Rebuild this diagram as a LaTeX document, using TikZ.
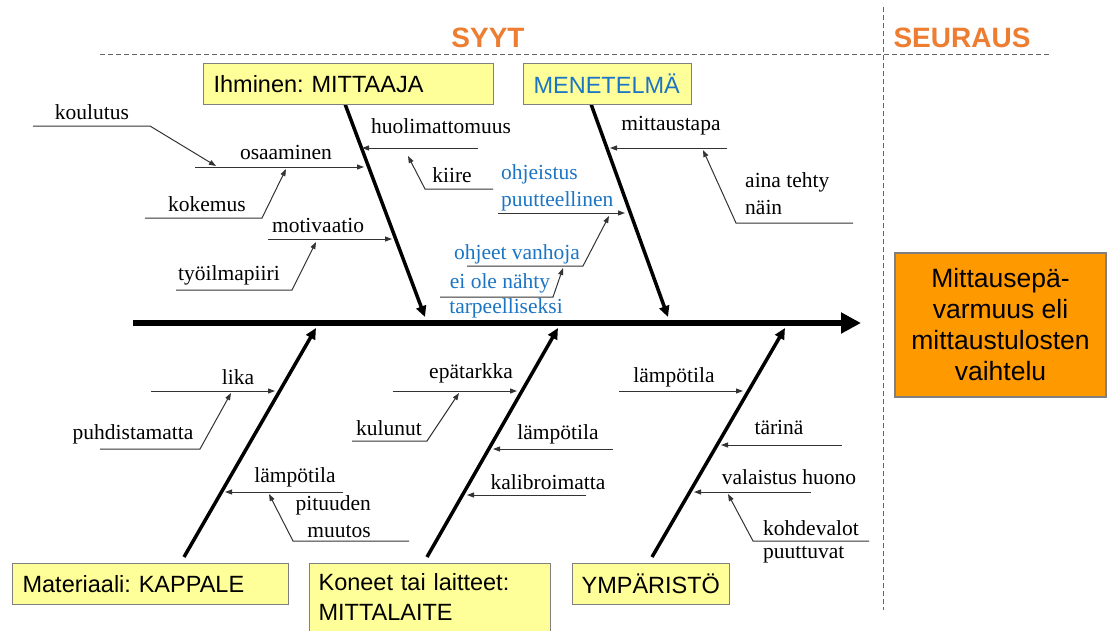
\documentclass[tikz,border=0pt]{standalone}
\usepackage{fontspec}
\setmainfont{Liberation Serif}
\newfontfamily\boxfont{Liberation Sans}
\usetikzlibrary{arrows.meta}
\definecolor{yfill}{HTML}{FFFF99}
\definecolor{bgray}{HTML}{808080}
\definecolor{mblue}{RGB}{28,117,196}
\definecolor{horange}{RGB}{237,125,49}
\definecolor{ofill}{RGB}{255,153,0}
\definecolor{tgray}{HTML}{333333}
\definecolor{dgray}{HTML}{666666}
\newcommand{\fbtwig}[3]{\coordinate (#1s) at (#2); \coordinate (#1t) at (#3); \draw[twig] (#1s) -- (#1t);}
\newcommand{\fbelbow}[4]{\coordinate (#1s) at (#2); \coordinate (#1k) at (#3); \coordinate (#1t) at (#4); \draw[twig] (#1s) -- (#1k) -- (#1t);}
\frenchspacing
\begin{document}
\frenchspacing
\begin{tikzpicture}[x=1pt,y=-1pt,
  lbl/.style={font=\fontsize{21.5}{27}\selectfont, inner sep=0pt, text=black},
  bluelbl/.style={lbl, text=mblue},
  catbox/.style={draw=bgray, line width=1.2pt, fill=yfill, font=\boxfont\fontsize{23.5}{30}\selectfont\frenchspacing, anchor=north west, align=left, inner xsep=10pt, inner ysep=0pt},
  bone/.style={line width=3.5pt, -{Triangle[length=11pt,width=10pt]}},
  spine/.style={line width=5.5pt, -{Triangle[length=20pt,width=20pt]}},
  twig/.style={line width=1pt, draw=tgray, -{Triangle[length=7pt,width=5pt]}},
  sep/.style={draw=dgray, line width=1pt, dash pattern=on 5pt off 3pt},
  head/.style={font=\boxfont\bfseries\fontsize{28}{32}\selectfont, text=horange, inner sep=0pt}
]
\clip (0,0) rectangle (1108,630);
\fill[white] (0,0) rectangle (1108,630);

% separators
\coordinate (hsL) at (100,54);
\coordinate (hsR) at (1050,54);
\coordinate (vsT) at (883,7);
\coordinate (vsB) at (883,610);
\draw[sep] (hsL) -- (hsR);
\draw[sep] (vsT) -- (vsB);

\node[head] (syyt) at (488,38) {SYYT};
\node[head] (seuraus) at (962,38) {SEURAUS};

% spine
\coordinate (spL) at (133,323);
\coordinate (spR) at (861,323);
\draw[spine] (spL) -- (spR);

% main bones
\coordinate (b1s) at (345,104); \coordinate (b1t) at (425,317);
\coordinate (b2s) at (591,104); \coordinate (b2t) at (668,317);
\coordinate (b3s) at (184,557); \coordinate (b3t) at (316,328);
\coordinate (b4s) at (427,557); \coordinate (b4t) at (558,328);
\coordinate (b5s) at (652,557); \coordinate (b5t) at (785,328);
\draw[bone] (b1s) -- (b1t);
\draw[bone] (b2s) -- (b2t);
\draw[bone] (b3s) -- (b3t);
\draw[bone] (b4s) -- (b4t);
\draw[bone] (b5s) -- (b5t);

% Ihminen twigs
\fbtwig{huo}{478,148}{362,148}
\fbtwig{osa}{195,167}{364,167}
\fbelbow{kou}{33,126}{150,126}{216,166}
\fbelbow{kok}{145,218}{262,218}{286,169}
\fbtwig{mot}{268,239}{392,239}
\fbelbow{tyo}{176,290}{292,290}{316,242}
\fbelbow{kii}{493,189}{425,189}{408,156}
% Menetelma twigs
\fbtwig{mit}{727,148}{610,148}
\fbelbow{ain}{853,223}{736,223}{703,150}
\fbtwig{ohj}{498,213}{625,213}
\fbelbow{van}{467,266}{583,266}{609,216}
\fbelbow{eio}{440,297}{553,297}{563,268}
% Materiaali twigs
\fbtwig{lik}{151,391}{275,391}
\fbelbow{puh}{100,449}{200,449}{231,393}
\fbtwig{lmA}{343,492}{225,492}
\fbelbow{pit}{409,541}{293,541}{269,494}
% Koneet twigs
\fbtwig{epa}{393,391}{517,391}
\fbelbow{kul}{352,441}{427,441}{459,393}
\fbtwig{lmB}{613,449}{493,449}
\fbtwig{kal}{586,495}{467,495}
% Ymparisto twigs
\fbtwig{lmC}{619,391}{743,391}
\fbtwig{tar}{842,445}{721,445}
\fbtwig{val}{811,492}{694,492}
\fbelbow{koh}{869,541}{753,541}{728,494}

% category boxes
\node[catbox, minimum width=290pt, minimum height=41pt, text width=270pt] (ihminen) at (203,63) {Ihminen: MITTAAJA};
\node[catbox, minimum width=168pt, minimum height=41pt, text width=148pt, text=mblue] (menetelma) at (523,63) {MENETELMÄ};
\node[catbox, minimum width=276pt, minimum height=41pt, text width=256pt] (materiaali) at (12,563) {Materiaali: KAPPALE};
\node[catbox, minimum width=241pt, text width=223pt, inner xsep=9pt, inner ysep=10pt] (koneet) at (309,563) {Koneet tai laitteet:\\MITTALAITE\rule[-14pt]{0pt}{0pt}};
\node[catbox, minimum width=157pt, minimum height=41pt, text width=139pt, inner xsep=9pt] (ymparisto) at (572,563) {YMPÄRISTÖ};

% effect box
\node[draw=bgray, line width=1.2pt, fill=ofill, minimum width=211pt, minimum height=144pt, align=center,
  font=\boxfont\fontsize{26.5}{31}\selectfont, inner sep=0pt] (effect) at (1000.5,325) {Mittausepä-\\varmuus eli\\mittaustulosten\\vaihtelu};

% labels
\node[lbl] (koulutus) at (92,112) {koulutus};
\node[lbl] (osaaminen) at (286,152) {osaaminen};
\node[lbl] (kokemus) at (207,204) {kokemus};
\node[lbl] (motivaatio) at (318,225) {motivaatio};
\node[lbl] (tyoilma) at (229,275) {työilmapiiri};
\node[lbl] (huoli) at (441,126) {huolimattomuus};
\node[lbl] (kiire) at (452,175) {kiire};
\node[bluelbl, anchor=west, align=left] (ohjeistus) at (501,188) {ohjeistus\\puutteellinen};
\node[lbl] (mittaustapa) at (671,126) {mittaustapa};
\node[lbl, anchor=west, align=left] (aina) at (745,194) {aina tehty\\näin};
\node[bluelbl] (vanhoja) at (517,254) {ohjeet vanhoja};
\node[bluelbl] (eiole) at (500,283) {ei ole nähty};
\node[bluelbl] (tarpeell) at (506,308) {tarpeelliseksi};
\node[lbl] (lika) at (238,377) {lika};
\node[lbl] (puhd) at (133,434) {puhdistamatta};
\node[lbl] (lampoA) at (295,477) {lämpötila};
\node[lbl, anchor=east, align=right] (pituuden) at (371,517) {pituuden\\muutos};
\node[lbl] (epatarkka) at (471,373) {epätarkka};
\node[lbl] (kulunut) at (389,428) {kulunut};
\node[lbl] (lampoB) at (558,434) {lämpötila};
\node[lbl] (kalib) at (548,482) {kalibroimatta};
\node[lbl] (lampoC) at (674,377) {lämpötila};
\node[lbl] (tarina) at (779,427) {tärinä};
\node[lbl] (valaistus) at (789,477) {valaistus huono};
\node[lbl, anchor=west] (kohdevalot) at (763,528) {kohdevalot};
\node[lbl, anchor=west] (puuttuvat) at (763,555) {puuttuvat};
\end{tikzpicture}
\end{document}
